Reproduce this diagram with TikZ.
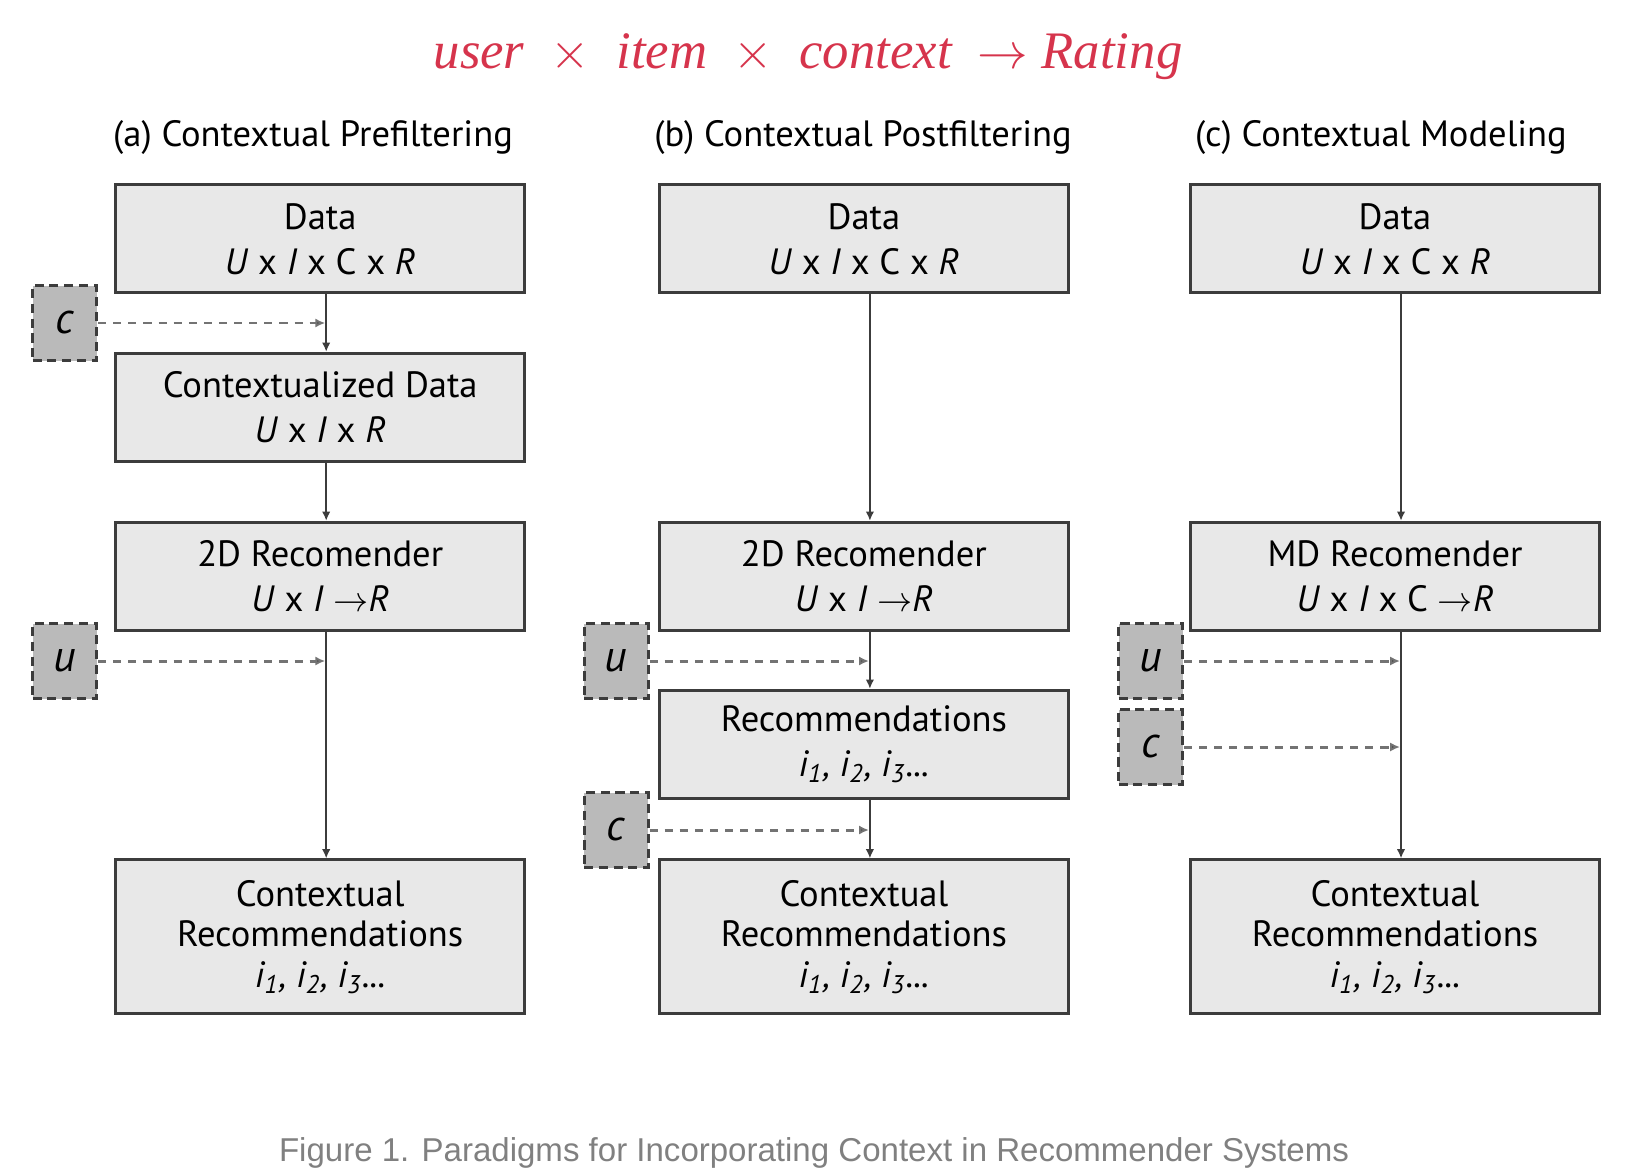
\documentclass[tikz,border=0pt]{standalone}
\usepackage{fontspec}
\setmainfont{PT Sans}
\newfontfamily\titlefont{Liberation Serif}
\newfontfamily\capfont{Liberation Sans}
\usetikzlibrary{arrows.meta,calc}
\definecolor{boxgray}{RGB}{232,232,232}
\definecolor{ctxgray}{RGB}{186,186,186}
\definecolor{edgegray}{RGB}{60,60,60}
\definecolor{titlered}{RGB}{214,52,76}
\definecolor{capgray}{RGB}{128,128,128}
\newcommand{\items}{\textit{i\textsubscript{1}, i\textsubscript{2}, i\textsubscript{3}...}}

\begin{document}
\begin{tikzpicture}[box/.style={draw=edgegray,line width=0.9pt,fill=boxgray,minimum width=4.09cm,minimum height=1.08cm,align=center,inner sep=1pt,font=\fontsize{10.4}{12.8}\selectfont},
  tall/.style={box,minimum height=1.54cm,font=\fontsize{10.4}{11.6}\selectfont},
  ctx/.style={draw=edgegray,dash pattern=on 2.6pt off 1.6pt,line width=0.85pt,fill=ctxgray,minimum width=0.64cm,minimum height=0.75cm,inner sep=0pt,font=\fontsize{12.5}{14}\selectfont\itshape},
  head/.style={font=\fontsize{10.4}{12}\selectfont},
  flow/.style={-{Latex[length=2.6pt,width=2.4pt]},draw=edgegray,line width=0.45pt},
  ctxflow/.style={-{Latex[length=2.8pt,width=2.6pt,fill=edgegray]},draw=gray!90!black,dash pattern=on 2.3pt off 2pt,line width=0.85pt}]
  \useasboundingbox (0,0) rectangle (16.46,11.68);

  \node[font=\titlefont\itshape\fontsize{15}{18}\selectfont,text=titlered] (title) at (8.08,11.11) {user\ \ $\times$\ \ item\ \ $\times$\ \ context\ \ $\rightarrow$ Rating};

  \node[head] (ha) at (3.13,10.30) {(a) Contextual Prefiltering};
  \node[head] (hb) at (8.63,10.30) {(b) Contextual Postfiltering};
  \node[head] (hc) at (13.81,10.30) {(c) Contextual Modeling};

  \node[box] (a1) at (3.202,9.292) {Data\\\textit{U} x \textit{I} x C x \textit{R}};
  \node[box] (a2) at (3.202,7.607) {Contextualized Data\\\textit{U} x \textit{I} x \textit{R}};
  \node[box] (a3) at (3.202,5.917) {2D Recomender\\\textit{U} x \textit{I} $\rightarrow$\textit{R}};
  \node[tall] (a4) at (3.202,2.311) {Contextual\\Recommendations\\\items};

  \node[box] (b1) at (8.639,9.292) {Data\\\textit{U} x \textit{I} x C x \textit{R}};
  \node[box] (b2) at (8.639,5.917) {2D Recomender\\\textit{U} x \textit{I} $\rightarrow$\textit{R}};
  \node[box] (b3) at (8.639,4.237) {Recommendations\\\items};
  \node[tall] (b4) at (8.639,2.311) {Contextual\\Recommendations\\\items};

  \node[box] (c1) at (13.95,9.292) {Data\\\textit{U} x \textit{I} x C x \textit{R}};
  \node[box] (c2) at (13.95,5.917) {MD Recomender\\\textit{U} x \textit{I} x C $\rightarrow$\textit{R}};
  \node[tall] (c3) at (13.95,2.311) {Contextual\\Recommendations\\\items};

  \node[ctx] (ac) at (0.646,8.45) {c};
  \node[ctx] (au) at (0.646,5.07) {u};
  \node[ctx] (bu) at (6.16,5.07) {u};
  \node[ctx] (bc) at (6.16,3.38) {c};
  \node[ctx] (cu) at (11.505,5.07) {u};
  \node[ctx] (cc) at (11.505,4.21) {c};

  \foreach \from/\to in {a1/a2,a2/a3,a3/a4,b1/b2,b2/b3,b3/b4,c1/c2,c2/c3}
    \draw[flow] ([xshift=0.06cm]\from.south) -- ([xshift=0.06cm]\to.north);
  \foreach \from/\to in {ac/a1,au/a3,bu/b2,bc/b3,cu/c2,cc/c2}
    \draw[ctxflow] (\from.east) -- ($(\from.east -| \to.south)+(0.05,0)$);

  \node[font=\capfont\fontsize{9.4}{11}\selectfont,text=capgray] (cap) at (8.14,0.15) {Figure 1. Paradigms for Incorporating Context in Recommender Systems};
\end{tikzpicture}
\end{document}
